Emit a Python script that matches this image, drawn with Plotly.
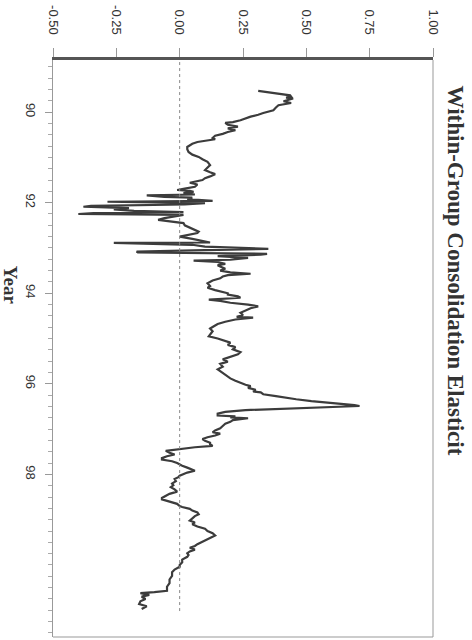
import plotly.graph_objects as go

years = [
    89.53, 89.58, 89.63, 89.66, 89.68, 89.70, 89.73, 89.76, 89.80, 89.85,
    89.90, 89.96, 90.02, 90.06, 90.10, 90.14, 90.18, 90.22, 90.24, 90.28,
    90.32, 90.36, 90.40, 90.44, 90.48, 90.52, 90.57, 90.60, 90.63, 90.66,
    90.70, 90.74, 90.77, 90.82, 90.88, 90.94, 90.99, 91.04, 91.10, 91.17,
    91.22, 91.28, 91.33, 91.37, 91.42, 91.46, 91.50, 91.53, 91.56, 91.60,
    91.65, 91.69, 91.72, 91.74, 91.76,
    91.79, 91.82, 91.84, 91.87, 91.89, 91.92, 91.96, 91.98, 92.01, 92.04,
    92.07, 92.09, 92.12, 92.15, 92.18, 92.21, 92.23, 92.25, 92.27, 92.30,
    92.34, 92.38, 92.41, 92.45, 92.50, 92.55, 92.60, 92.64, 92.67, 92.71,
    92.75, 92.80, 92.85, 92.88, 92.89, 92.93, 92.97, 93.00, 93.02, 93.05,
    93.08, 93.10, 93.13, 93.15, 93.18, 93.22, 93.26, 93.28, 93.31, 93.35,
    93.38, 93.41,
    93.46, 93.50, 93.54, 93.57, 93.60, 93.63, 93.67, 93.72, 93.78, 93.84,
    93.88, 93.93, 93.97, 94.00, 94.03, 94.07, 94.10, 94.12, 94.14, 94.17,
    94.21, 94.25, 94.29, 94.33, 94.38, 94.43, 94.48, 94.52, 94.54, 94.58,
    94.63, 94.68, 94.73, 94.78, 94.84, 94.90, 94.95, 95.00, 95.05, 95.09,
    95.14, 95.19, 95.24, 95.30, 95.35, 95.40, 95.46, 95.51, 95.56, 95.62,
    95.68, 95.72, 95.76, 95.79,
    95.83, 95.88, 95.93, 95.98, 96.02, 96.05, 96.09, 96.13, 96.17, 96.19,
    96.23, 96.27, 96.30, 96.34, 96.38, 96.43, 96.47, 96.49, 96.51, 96.53,
    96.55, 96.58, 96.62, 96.66, 96.70, 96.72, 96.74, 96.76, 96.78, 96.80,
    96.84, 96.88, 96.93, 96.98, 97.03, 97.07, 97.10, 97.14, 97.18, 97.22,
    97.26, 97.30, 97.33, 97.37,
    97.40, 97.44, 97.48, 97.52, 97.56, 97.60, 97.64, 97.67, 97.71, 97.75,
    97.78, 97.81, 97.85, 97.89, 97.92, 97.96, 98.00, 98.03, 98.06, 98.10,
    98.15, 98.20, 98.24, 98.28, 98.33, 98.38, 98.43, 98.48, 98.52, 98.55,
    98.60, 98.65, 98.70, 98.72, 98.76, 98.80, 98.84, 98.88, 98.92, 98.97,
    99.02, 99.06, 99.10, 99.15, 99.20, 99.25, 99.30, 99.35, 99.40, 99.45,
    99.50, 99.54, 99.58, 99.62, 99.66, 99.70, 99.74, 99.78, 99.82, 99.88,
    99.94, 100.00, 100.04, 100.10, 100.16, 100.24, 100.32, 100.40, 100.48, 100.57,
    100.60, 100.62, 100.66, 100.70, 100.75, 100.80, 100.86, 100.91, 100.97,
]

elasticity = [
    0.31, 0.37, 0.436, 0.44, 0.42, 0.448, 0.43, 0.41, 0.44, 0.39,
    0.38, 0.37, 0.33, 0.31, 0.28, 0.26, 0.24, 0.21, 0.18, 0.19,
    0.23, 0.19, 0.22, 0.19, 0.17, 0.14, 0.13, 0.14, 0.10, 0.07,
    0.05, 0.04, 0.03, 0.03, 0.035, 0.05, 0.075, 0.09, 0.11, 0.12,
    0.11, 0.10, 0.12, 0.14, 0.12, 0.10, 0.09, 0.06, 0.04, 0.07,
    0.06, 0.02, -0.01, 0.04, 0.055,
    0.015, 0.06, -0.13, -0.06, 0.05, 0.03, 0.13, -0.285, 0.10, 0.02,
    -0.35, -0.38, -0.20, -0.26, -0.18, 0.015, -0.34, -0.40, 0.015, -0.02,
    -0.06, -0.085, -0.03, 0.015, 0.02, 0.04, 0.06, 0.075, 0.07, 0.03,
    0.0, 0.05, 0.09, 0.12, -0.26, 0.05, 0.10, 0.28, 0.35, 0.10,
    -0.17, -0.165, 0.345, 0.32, 0.15, 0.27, 0.20, 0.055, 0.15, 0.18,
    0.15, 0.16,
    0.18, 0.16, 0.20, 0.28, 0.19, 0.17, 0.16, 0.13, 0.11, 0.12,
    0.11, 0.14, 0.17, 0.19, 0.19, 0.23, 0.24, 0.15, 0.115, 0.16,
    0.20, 0.27, 0.31, 0.28, 0.26, 0.24, 0.25, 0.225, 0.29, 0.22,
    0.18, 0.15, 0.135, 0.12, 0.13, 0.12, 0.115, 0.15, 0.18, 0.20,
    0.19, 0.22, 0.21, 0.24, 0.23, 0.20, 0.17, 0.19, 0.16, 0.17,
    0.15, 0.16, 0.17, 0.18,
    0.19, 0.20, 0.22, 0.24, 0.26, 0.28, 0.27, 0.30, 0.29, 0.32,
    0.33, 0.38, 0.41, 0.46, 0.52, 0.63, 0.69, 0.71, 0.60, 0.48,
    0.38, 0.26, 0.18, 0.15, 0.15, 0.22, 0.20, 0.27, 0.24, 0.21,
    0.20, 0.18, 0.17, 0.16, 0.14, 0.13, 0.16, 0.14, 0.11, 0.09,
    0.10, 0.12, 0.12, 0.13,
    0.06, 0.0, -0.055, -0.04, -0.02, -0.05, -0.07, -0.07, -0.03, -0.01,
    0.0, 0.01, 0.03, 0.05, 0.06, 0.03, 0.01, 0.0, -0.005, -0.02,
    -0.015, -0.03, -0.025, -0.035, -0.02, -0.01, -0.04, -0.06, -0.07, -0.07,
    -0.04, -0.01, 0.0, 0.01, 0.04, 0.05, 0.07, 0.075, 0.06, 0.05,
    0.04, 0.06, 0.05, 0.07, 0.10, 0.11, 0.13, 0.14, 0.12, 0.10,
    0.08, 0.07, 0.06, 0.04, 0.06, 0.04, 0.03, 0.035, 0.03, 0.01,
    0.01, 0.0, 0.0, -0.02, -0.03, -0.03, -0.04, -0.04, -0.05, -0.05,
    -0.10, -0.155, -0.12, -0.15, -0.135, -0.155, -0.16, -0.13, -0.15,
]

value_ticks = [-0.50, -0.25, 0.00, 0.25, 0.50, 0.75, 1.00]
value_tick_labels = ["-0.50", "-0.25", "0.00", "0.25", "0.50", "0.75", "1.00"]
year_ticks = [90, 92, 94, 96, 98]
year_tick_labels = ["90", "92", "94", "96", "98"]
title_text = "Within-Group Consolidation Elasticit"
year_title = "Year"

fig = go.Figure()
fig.add_trace(go.Scatter(
    x=elasticity, y=years, mode="lines",
    line=dict(color="#3c3c3c", width=2.2),
    showlegend=False, hoverinfo="skip",
))

# dotted zero line
fig.add_shape(type="line", xref="x", yref="paper", x0=0, x1=0, y0=0.045, y1=1,
              line=dict(color="#888888", width=1, dash="dot"))
# thin box (right and bottom edges)
fig.add_shape(type="line", xref="paper", yref="paper", x0=1, x1=1, y0=0, y1=1,
              line=dict(color="#999999", width=1))
fig.add_shape(type="line", xref="paper", yref="paper", x0=0, x1=1, y0=0, y1=0,
              line=dict(color="#999999", width=1))

fig.update_xaxes(
    range=[-0.5, 1.0], side="top", automargin=False,
    tickvals=value_ticks, ticktext=value_tick_labels, tickangle=90,
    ticks="outside", ticklen=9, tickwidth=1, tickcolor="#999999",
    ticklabelstandoff=9,
    showline=True, linewidth=2.5, linecolor="#555555",
    showgrid=False, zeroline=False,
    tickfont=dict(family="Liberation Sans, Arial, sans-serif", size=13, color="#333333"),
)
fig.update_yaxes(
    range=[101.59, 88.85], automargin=False,
    tickvals=year_ticks, ticktext=year_tick_labels, tickangle=90,
    ticks="outside", ticklen=7, tickwidth=1, tickcolor="#999999",
    ticklabelstandoff=3,
    minor=dict(ticks="outside", tick0=90, dtick=0.25, ticklen=4, tickcolor="#aaaaaa", showgrid=False),
    showline=True, linewidth=1, linecolor="#999999",
    showgrid=False, zeroline=False,
    tickfont=dict(family="Liberation Sans, Arial, sans-serif", size=13, color="#333333"),
)

fig.add_annotation(
    text="<b>" + title_text + "</b>", xref="paper", yref="paper", x=1.058, y=0.635,
    xanchor="center", yanchor="middle",
    showarrow=False, textangle=90,
    font=dict(family="Liberation Serif, Times New Roman, serif", size=23, color="#333333"),
)
fig.add_annotation(
    text="<b>" + year_title + "</b>", xref="paper", yref="paper", x=-0.11, y=0.61,
    xanchor="center", yanchor="middle",
    showarrow=False, textangle=90,
    font=dict(family="Liberation Serif, Times New Roman, serif", size=19, color="#333333"),
)

fig.update_layout(
    width=472, height=640,
    margin=dict(l=53, r=39, t=60, b=3),
    paper_bgcolor="white", plot_bgcolor="white",
)

# remove the browser's default 8px body margin so the figure fills the window
fig.write_html("out.html", config={"displayModeBar": False},
               post_script="document.body.style.margin='0';")
